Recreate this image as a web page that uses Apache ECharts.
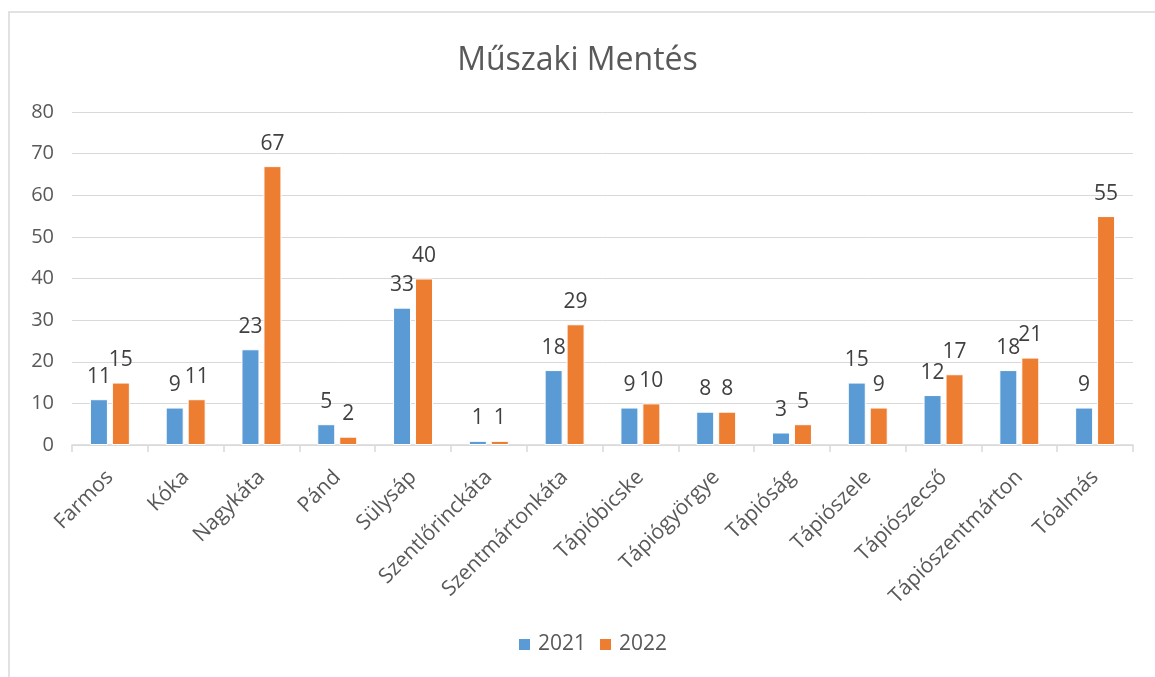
<!DOCTYPE html>
<html>
<head>
<meta charset="utf-8">
<script src="https://cdn.jsdelivr.net/npm/echarts@6/dist/echarts.min.js"></script>
<style>
  html, body { margin: 0; padding: 0; background: #fff; }
  #chart { width: 1155px; height: 677px; }
</style>
</head>
<body>
<div id="chart"></div>
<script>
// data
const places = ['Farmos', 'Kóka', 'Nagykáta', 'Pánd', 'Sülysáp', 'Szentlőrinckáta',
  'Szentmártonkáta', 'Tápióbicske', 'Tápiógyörgye', 'Tápióság', 'Tápiószele',
  'Tápiószecső', 'Tápiószentmárton', 'Tóalmás'];
const values2021 = [11, 9, 23, 5, 33, 1, 18, 9, 8, 3, 15, 12, 18, 9];
const values2022 = [15, 11, 67, 2, 40, 1, 29, 10, 8, 5, 9, 17, 21, 55];

const font = 'Open Sans';
const grey = '#595959';

const chart = echarts.init(document.getElementById('chart'));

function barSeries(name, data, color) {
  return {
    name: name,
    type: 'bar',
    data: data,
    barWidth: 18,
    barGap: '22%',
    itemStyle: { color: color, borderColor: '#fff', borderWidth: 1 },
    label: {
      show: true,
      position: 'top',
      distance: 12,
      color: '#404040',
      fontFamily: font,
      fontSize: 21
    }
  };
}

chart.setOption({
  animation: false,
  backgroundColor: '#fff',
  graphic: [{
    type: 'rect',
    shape: { x: 9, y: 12, width: 1200, height: 700 },
    style: { fill: 'none', stroke: '#d9d9d9', lineWidth: 1.5 }
  }],
  title: {
    text: 'Műszaki Mentés',
    left: 'center',
    top: 40,
    textStyle: { fontFamily: font, fontSize: 32, fontWeight: 'normal', color: grey }
  },
  legend: {
    bottom: 17,
    left: 512,
    itemWidth: 13,
    itemHeight: 13,
    itemGap: 12,
    icon: 'rect',
    textStyle: { fontFamily: font, fontSize: 21, color: grey, padding: [0, 0, 0, 2] }
  },
  grid: { left: 72, right: 22, top: 112, bottom: 232 },
  xAxis: {
    type: 'category',
    data: places,
    axisLine: { lineStyle: { color: '#d9d9d9', width: 1.5 } },
    axisTick: { show: true, length: 7, lineStyle: { color: '#d9d9d9', width: 1.5 } },
    axisLabel: {
      rotate: 45,
      interval: 0,
      margin: 29,
      fontFamily: font,
      fontSize: 21,
      color: grey
    }
  },
  yAxis: {
    type: 'value',
    min: 0,
    max: 80,
    interval: 10,
    axisLine: { show: false },
    axisTick: { show: false },
    splitLine: { lineStyle: { color: '#d9d9d9', width: 1 } },
    axisLabel: { fontFamily: font, fontSize: 20, color: grey, margin: 18 }
  },
  series: [
    barSeries('2021', values2021, '#5b9bd5'),
    barSeries('2022', values2022, '#ed7d31')
  ]
});
</script>
</body>
</html>
